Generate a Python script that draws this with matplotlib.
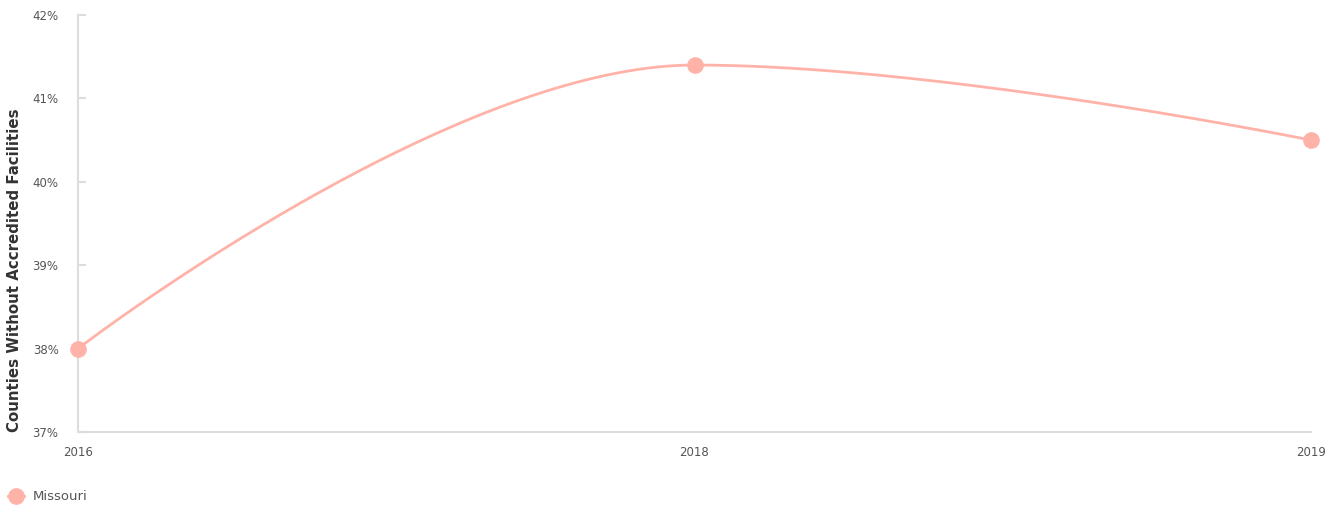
import matplotlib
matplotlib.use("Agg")
import matplotlib.pyplot as plt
from matplotlib.lines import Line2D
import numpy as np

years = ["2016", "2018", "2019"]
missouri = [38.0, 41.4, 40.5]
y_ticks = [37, 38, 39, 40, 41, 42]

LINE_COLOR = "#ffb3a8"
AXIS_COLOR = "#dddddd"
TEXT_COLOR = "#555555"
W, H = 1337, 508


def spline_path(x, y, n=80):
    """Smooth curve through the points, control points as in Highcharts' spline series."""
    x = [float(v) for v in x]
    y = [float(v) for v in y]
    smoothing, denom = 1.5, 2.5
    left = [(x[i], y[i]) for i in range(len(x))]
    right = [(x[i], y[i]) for i in range(len(x))]
    for i in range(1, len(x) - 1):
        lcx = (smoothing * x[i] + x[i - 1]) / denom
        lcy = (smoothing * y[i] + y[i - 1]) / denom
        rcx = (smoothing * x[i] + x[i + 1]) / denom
        rcy = (smoothing * y[i] + y[i + 1]) / denom
        corr = (rcy - lcy) * (rcx - x[i]) / (rcx - lcx) + y[i] - rcy
        lcy += corr
        rcy += corr
        if lcy > y[i - 1] and lcy > y[i]:
            lcy = max(y[i - 1], y[i]); rcy = 2 * y[i] - lcy
        elif lcy < y[i - 1] and lcy < y[i]:
            lcy = min(y[i - 1], y[i]); rcy = 2 * y[i] - lcy
        if rcy > y[i + 1] and rcy > y[i]:
            rcy = max(y[i + 1], y[i]); lcy = 2 * y[i] - rcy
        elif rcy < y[i + 1] and rcy < y[i]:
            rcy = min(y[i + 1], y[i]); lcy = 2 * y[i] - rcy
        left[i] = (lcx, lcy)
        right[i] = (rcx, rcy)
    xs, ys = [], []
    u = np.linspace(0, 1, n)[:, None]
    for i in range(len(x) - 1):
        p0 = np.array([x[i], y[i]])
        p1 = np.array(right[i])
        p2 = np.array(left[i + 1])
        p3 = np.array([x[i + 1], y[i + 1]])
        pts = (1 - u) ** 3 * p0 + 3 * (1 - u) ** 2 * u * p1 + 3 * (1 - u) * u ** 2 * p2 + u ** 3 * p3
        xs.extend(pts[:, 0])
        ys.extend(pts[:, 1])
    return np.array(xs), np.array(ys)


fig = plt.figure(figsize=(W / 100, H / 100), dpi=100)
ax = fig.add_axes([78 / W, 1 - 432 / H, (1311 - 78) / W, (432 - 15) / H])

xpos = np.arange(len(years))
cx, cy = spline_path(xpos, missouri)
ax.plot(cx, cy, color=LINE_COLOR, lw=2.0, solid_capstyle="round", zorder=2)
ax.plot(xpos, missouri, "o", color=LINE_COLOR, ms=11, zorder=3, clip_on=False)

ax.set_xlim(0, len(years) - 1)
ax.set_ylim(37, 42)
ax.set_xticks(xpos)
ax.set_xticklabels(years)
ax.set_yticks(y_ticks)
ax.set_yticklabels([f"{v}%" for v in y_ticks])

for side in ["top", "right"]:
    ax.spines[side].set_visible(False)
for side in ["left", "bottom"]:
    ax.spines[side].set_color(AXIS_COLOR)
    ax.spines[side].set_linewidth(1.5)

ax.tick_params(axis="y", direction="in", length=6, width=1.5, color=AXIS_COLOR,
               labelsize=8.5, labelcolor=TEXT_COLOR, pad=14)
ax.tick_params(axis="x", length=0, labelsize=8.5, labelcolor=TEXT_COLOR, pad=10)

fig.text(15 / W, 1 - 432 / H, "Counties Without Accredited Facilities",
         rotation=90, ha="center", va="bottom", fontsize=10.8, fontweight="bold",
         color="#333333")

# legend, drawn by hand at the bottom left
fig.add_artist(Line2D([8 / W, 24 / W], [1 - 496 / H] * 2, transform=fig.transFigure,
                      color=LINE_COLOR, lw=2))
fig.add_artist(Line2D([16 / W], [1 - 496 / H], transform=fig.transFigure,
                      marker="o", color=LINE_COLOR, ms=11, lw=0))
fig.text(33 / W, 1 - 496 / H, "Missouri", ha="left", va="center",
         fontsize=9.5, color=TEXT_COLOR)

fig.savefig("out.png", dpi=100)
